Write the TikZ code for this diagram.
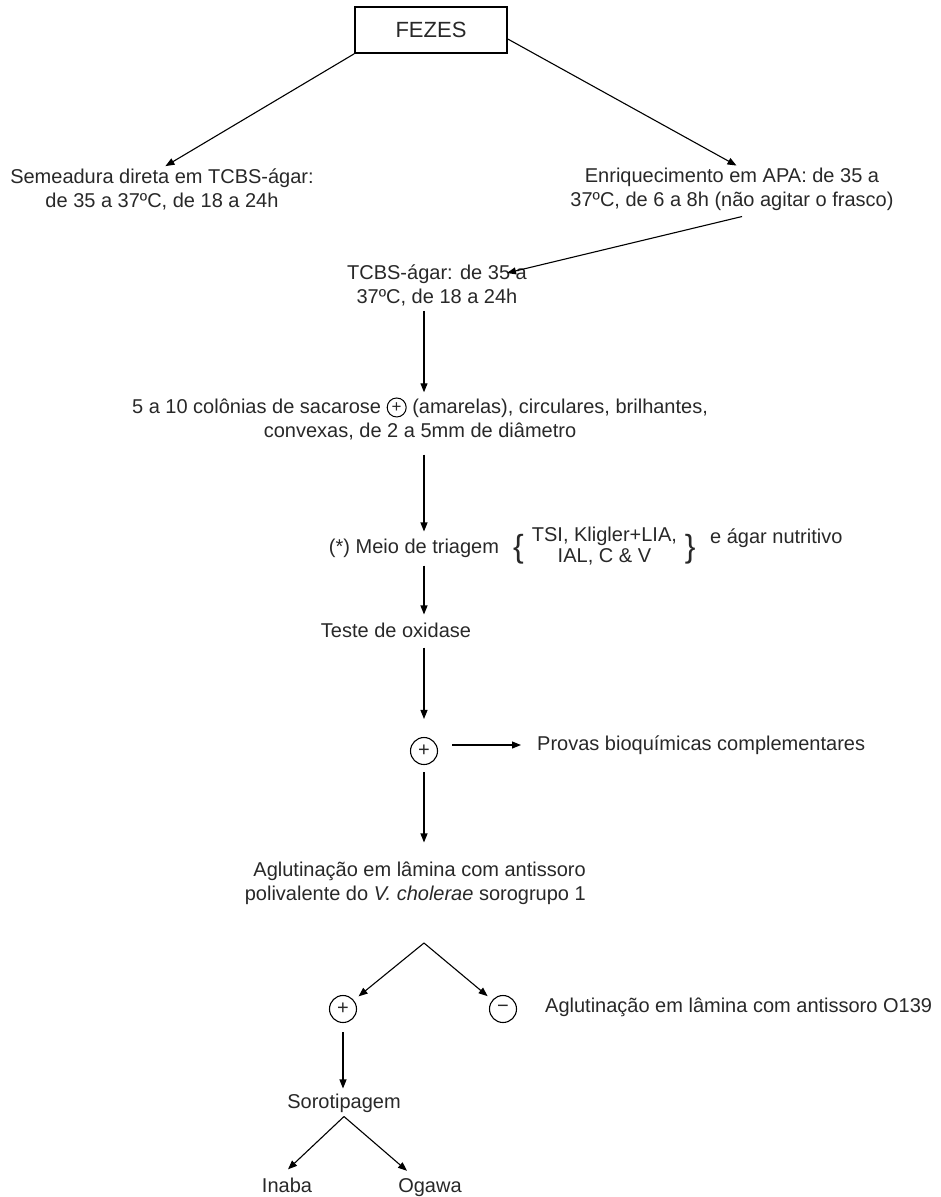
\documentclass[tikz,border=0pt]{standalone}
\usepackage{fontspec}
\setmainfont{Liberation Sans}
\usetikzlibrary{arrows.meta,calc}
\definecolor{txt}{RGB}{40,40,40}
\newcommand{\cplus}{\tikz[baseline={([yshift=-6.5pt]cp.center)}]\node[circle,draw=black,line width=1pt,inner sep=0pt,minimum size=19pt] (cp) {\fontsize{17}{17}\selectfont\raisebox{-1pt}{+}};}
\newcommand{\bigbr}[1]{{\fontsize{32}{32}\selectfont\raisebox{-4pt}{#1}}}
\begin{document}
\begin{tikzpicture}[x=1pt,y=-1pt,
  every node/.style={text=txt, inner sep=0pt, font=\fontsize{20}{24}\selectfont},
  lbl/.style={align=center},
  arr/.style={-{Triangle[length=9pt,width=7pt]}, line width=1.1pt, draw=black},
  pm/.style={circle, draw=black, line width=1.1pt, minimum size=27pt, inner sep=0pt},
  fbox/.style={draw=black, line width=1.6pt, minimum width=152pt, minimum height=46pt, font=\fontsize{22}{26}\selectfont}
]
\useasboundingbox (0,0) rectangle (941,1197);
\coordinate (ax) at (424,0);
\coordinate (apex) at (424,943);

\node[fbox] (fezes) at (431,30) {FEZES};
\node[lbl] (semea) at (162,189) {Semeadura direta em TCBS-ágar:\\de 35 a 37ºC, de 18 a 24h};
\node[lbl] (enriq) at (732,189) {Enriquecimento em APA: de 35 a\\37ºC, de 6 a 8h (não agitar o frasco)};
\node[lbl] (tcbs) at (437,285) {TCBS-ágar: de 35 a\\37ºC, de 18 a 24h};
\node[lbl] (colon) at (420,419) {5 a 10 colônias de sacarose \cplus\ (amarelas), circulares, brilhantes,\\convexas, de 2 a 5mm de diâmetro};
\node (meio) at (414,548) {(*) Meio de triagem};
\node[anchor=west] (tsi) at (513,548) {\bigbr{\{}\hspace{8pt}{\fontsize{20}{21}\selectfont\begin{tabular}{@{}c@{}}TSI, Kligler+LIA,\\IAL, C \& V\end{tabular}}\hspace{8pt}\bigbr{\}}};
\node[anchor=west] (agar) at (710,538) {e ágar nutritivo};
\node (teste) at (396,630) {Teste de oxidase};
\node[pm] (pos1) at (424,751) {+};
\node[anchor=west] (provas) at (537,745) {Provas bioquímicas complementares};
\node[align=right, anchor=east] (aglut) at (586,883) {Aglutinação em lâmina com antissoro\\polivalente do \textit{V. cholerae} sorogrupo 1\hspace{5pt}};
\node[pm] (pos2) at (343,1009) {+};
\node[pm] (neg) at (503,1009) {\symbol{"2212}};
\node[anchor=west] (o139) at (545,1007) {Aglutinação em lâmina com antissoro O139};
\node (soro) at (344,1103) {Sorotipagem};
\node[anchor=base] (inaba) at (287,1192) {Inaba};
\node[anchor=base] (ogawa) at (430,1192) {Ogawa};

\draw[arr, shorten >=4pt] (fezes.south west) -- (semea.north);
\draw[arr, shorten >=4pt] ([yshift=-9pt]fezes.east) -- ([xshift=8pt]enriq.north);
\draw[arr] ([xshift=10pt,yshift=-6pt]enriq.south) -- ([xshift=70pt,yshift=12pt]tcbs.center);
\draw[arr] ($(tcbs.south -| ax)+(0,5)$) -- ($(colon.north -| ax)+(0,-5)$);
\draw[arr] ($(colon.south -| ax)+(0,14)$) -- ($(meio.north -| ax)+(0,-7)$);
\draw[arr] ($(meio.south -| ax)+(0,8)$) -- ($(teste.north -| ax)+(0,-8)$);
\draw[arr] ($(teste.south -| ax)+(0,10)$) -- ($(pos1.north)+(0,-18)$);
\draw[arr] ($(provas.west -| pos1.east)+(14,0)$) -- ($(provas.west)+(-16,0)$);
\draw[arr] ($(pos1.south)+(0,7)$) -- ($(aglut.north -| ax)+(0,-19)$);
\draw[arr, shorten >=6pt] (apex) -- (pos2);
\draw[arr, shorten >=6pt] (apex) -- (neg);
\draw[arr] ($(pos2.south)+(0,9)$) -- ($(soro.north -| pos2)+(0,-5)$);
\draw[arr] ($(soro.south)+(0,4)$) -- ($(inaba.north)+(1,-8)$);
\draw[arr] ($(soro.south)+(0,4)$) -- ($(ogawa.north)+(-23,-7)$);
\end{tikzpicture}
\end{document}
